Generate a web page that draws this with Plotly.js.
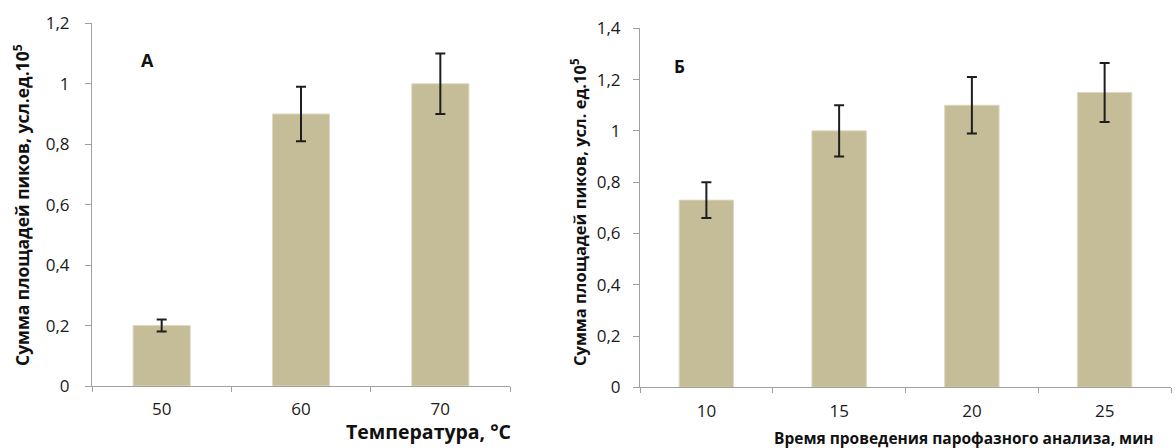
<!DOCTYPE html>
<html>
<head>
<meta charset="utf-8">
<script src="https://cdn.plot.ly/plotly-3.0.1.min.js"></script>
<style>
  html, body { margin: 0; padding: 0; background: #fff; }
  #chart { width: 1175px; height: 448px; }
</style>
</head>
<body>
<div id="chart"></div>
<script>
// Panel А: temperature series
const tempCategories = ['50', '60', '70'];
const tempValues = [0.2, 0.9, 1.0];
const tempErrors = [0.02, 0.09, 0.1];

// Panel Б: headspace analysis time series
const timeCategories = ['10', '15', '20', '25'];
const timeValues = [0.73, 1.0, 1.1, 1.15];
const timeErrors = [0.07, 0.1, 0.11, 0.115];

const yTicksA = [0, 0.2, 0.4, 0.6, 0.8, 1, 1.2];
const yTicksB = [0, 0.2, 0.4, 0.6, 0.8, 1, 1.2, 1.4];

const W = 1175, H = 448;
const FONT = 'Open Sans, DejaVu Sans, sans-serif';
const BAR = '#c4bd97';
const AXIS = '#a0a0a0';
const ERR = '#1e1e1e';

const px = v => v / W;
const py = v => 1 - v / H;

const errStyle = { type: 'data', visible: true, thickness: 2, width: 5, color: ERR };

const traces = [
  {
    type: 'bar', x: tempCategories, y: tempValues,
    xaxis: 'x', yaxis: 'y',
    marker: { color: BAR, line: { color: '#ddd8c2', width: 1 } },
    error_y: Object.assign({ array: tempErrors }, errStyle),
    hoverinfo: 'skip'
  },
  {
    type: 'bar', x: timeCategories, y: timeValues,
    xaxis: 'x2', yaxis: 'y2',
    marker: { color: BAR, line: { color: '#ddd8c2', width: 1 } },
    error_y: Object.assign({ array: timeErrors }, errStyle),
    hoverinfo: 'skip'
  }
];

const xCommon = {
  type: 'category', showgrid: false, zeroline: false,
  showline: true, linecolor: AXIS, linewidth: 1,
  ticks: 'outside', tickson: 'boundaries', ticklen: 5, tickcolor: AXIS,
  ticklabelstandoff: 8,
  tickfont: { family: FONT, size: 17, color: '#1a1a1a' },
  fixedrange: true
};
const yCommon = {
  showgrid: false, zeroline: false,
  showline: true, linecolor: AXIS, linewidth: 1,
  ticks: 'outside', ticklen: 6, tickcolor: AXIS,
  tickfont: { family: FONT, size: 17, color: '#1a1a1a' },
  tickmode: 'array',
  fixedrange: true
};

const layout = {
  width: W, height: H,
  margin: { l: 0, r: 0, t: 0, b: 0 },
  paper_bgcolor: '#fff', plot_bgcolor: '#fff',
  showlegend: false,
  separators: ', ',
  bargap: 0.59,
  font: { family: FONT, color: '#1a1a1a' },
  xaxis: Object.assign({}, xCommon, {
    domain: [px(92), px(510)], anchor: 'y'
  }),
  yaxis: Object.assign({}, yCommon, {
    domain: [py(386), py(23.3)], anchor: 'x',
    range: [0, 1.2], tickvals: yTicksA, ticklabelstandoff: 12
  }),
  xaxis2: Object.assign({}, xCommon, {
    domain: [px(640), px(1171)], anchor: 'y2'
  }),
  yaxis2: Object.assign({}, yCommon, {
    domain: [py(387.3), py(28.3)], anchor: 'x2',
    range: [0, 1.4], tickvals: yTicksB, ticklabelstandoff: 9
  }),
  annotations: [
    {
      text: 'Сумма площадей пиков, усл.ед.10<sup>5</sup>',
      xref: 'paper', yref: 'paper', x: px(21), y: py(205),
      xanchor: 'center', yanchor: 'middle', textangle: -90, showarrow: false,
      font: { family: FONT, size: 17.5, color: '#111', weight: 'bold' }
    },
    {
      text: 'Сумма площадей пиков, усл. ед.10<sup>5</sup>',
      xref: 'paper', yref: 'paper', x: px(579), y: py(212),
      xanchor: 'center', yanchor: 'middle', textangle: -90, showarrow: false,
      font: { family: FONT, size: 16.5, color: '#111', weight: 'bold' }
    },
    {
      text: 'Температура, °С',
      xref: 'paper', yref: 'paper', x: px(513), y: py(431),
      xanchor: 'right', yanchor: 'middle', showarrow: false,
      font: { family: FONT, size: 19.5, color: '#111', weight: 'bold' }
    },
    {
      text: 'Время проведения парофазного анализа, мин',
      xref: 'paper', yref: 'paper', x: px(964), y: py(438),
      xanchor: 'center', yanchor: 'middle', showarrow: false,
      font: { family: FONT, size: 15.5, color: '#111', weight: 'bold' }
    },
    {
      text: 'А',
      xref: 'paper', yref: 'paper', x: px(147), y: py(60),
      xanchor: 'center', yanchor: 'middle', showarrow: false,
      font: { family: FONT, size: 18, color: '#111', weight: 'bold' }
    },
    {
      text: 'Б',
      xref: 'paper', yref: 'paper', x: px(679), y: py(66),
      xanchor: 'center', yanchor: 'middle', showarrow: false,
      font: { family: FONT, size: 17, color: '#111', weight: 'bold' }
    }
  ]
};

Plotly.newPlot('chart', traces, layout, { staticPlot: true, displayModeBar: false });
</script>
</body>
</html>
